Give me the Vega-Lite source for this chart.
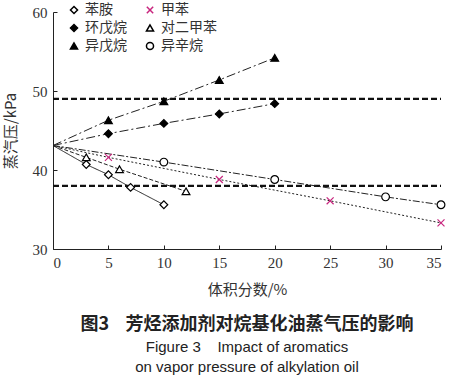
{
  "$schema": "https://vega.github.io/schema/vega-lite/v6.json",
  "width": 388,
  "height": 237,
  "autosize": "none",
  "padding": {"left": 53, "top": 12, "right": 8, "bottom": 130},
  "background": "white",
  "config": {
    "view": {"stroke": null},
    "axis": {"grid": false, "domainColor": "#222", "tickColor": "#222", "labelFont": "Liberation Serif", "labelFontSize": 15, "labelColor": "#333", "titleFont": "Noto Sans CJK SC", "titleFontSize": 15, "titleFontWeight": "normal", "titleColor": "#333"},
    "legend": {"labelFont": "Noto Sans CJK SC", "labelFontSize": 14, "labelColor": "#333"}
  },
  "title": {
    "text": "图3\u00a0\u00a0\u00a0\u00a0芳烃添加剂对烷基化油蒸气压的影响",
    "subtitle": ["Figure 3\u00a0\u00a0\u00a0\u00a0Impact of aromatics", "on vapor pressure of alkylation oil"],
    "orient": "bottom",
    "anchor": "middle",
    "offset": 19,
    "font": "Noto Sans CJK SC",
    "fontSize": 18,
    "fontWeight": "bold",
    "color": "#222",
    "subtitleFont": "Liberation Sans",
    "subtitleFontSize": 15,
    "subtitleColor": "#222",
    "subtitlePadding": 6,
    "subtitleLineHeight": 20
  },
  "resolve": {"legend": {"strokeDash": "independent"}},
  "datasets": {
    "series": [
      {"s": "苯胺", "x": 0, "y": 43.1},
      {"s": "苯胺", "x": 3, "y": 40.7},
      {"s": "苯胺", "x": 5, "y": 39.4},
      {"s": "苯胺", "x": 7, "y": 37.8},
      {"s": "苯胺", "x": 10, "y": 35.6},
      {"s": "甲苯", "x": 0, "y": 43.1},
      {"s": "甲苯", "x": 5, "y": 41.6},
      {"s": "甲苯", "x": 15, "y": 38.8},
      {"s": "甲苯", "x": 25, "y": 36.1},
      {"s": "甲苯", "x": 35, "y": 33.3},
      {"s": "环戊烷", "x": 0, "y": 43.1},
      {"s": "环戊烷", "x": 5, "y": 44.6},
      {"s": "环戊烷", "x": 10, "y": 45.9},
      {"s": "环戊烷", "x": 15, "y": 47.1},
      {"s": "环戊烷", "x": 20, "y": 48.4},
      {"s": "对二甲苯", "x": 0, "y": 43.1},
      {"s": "对二甲苯", "x": 3, "y": 41.6},
      {"s": "对二甲苯", "x": 6, "y": 40.1},
      {"s": "对二甲苯", "x": 12, "y": 37.3},
      {"s": "异戊烷", "x": 0, "y": 43.1},
      {"s": "异戊烷", "x": 5, "y": 46.3},
      {"s": "异戊烷", "x": 10, "y": 48.7},
      {"s": "异戊烷", "x": 15, "y": 51.4},
      {"s": "异戊烷", "x": 20, "y": 54.2},
      {"s": "异辛烷", "x": 0, "y": 43.1},
      {"s": "异辛烷", "x": 10, "y": 41.0},
      {"s": "异辛烷", "x": 20, "y": 38.8},
      {"s": "异辛烷", "x": 30, "y": 36.6},
      {"s": "异辛烷", "x": 35, "y": 35.6}
    ],
    "limits": [{"y": 49}, {"y": 38}]
  },
  "layer": [
    {
      "data": {"name": "limits"},
      "mark": {"type": "rule", "strokeDash": [6, 3], "strokeWidth": 2.2, "color": "#111"},
      "encoding": {
        "x": {"datum": 0, "type": "quantitative", "scale": {"domain": [0, 35]}},
        "x2": {"datum": 35},
        "y": {"field": "y", "type": "quantitative", "scale": {"domain": [30, 60]}}
      }
    },
    {
      "data": {"name": "series"},
      "mark": {"type": "line", "color": "#222", "strokeWidth": 1},
      "encoding": {
        "x": {"field": "x", "type": "quantitative", "scale": {"domain": [0, 35]},
          "axis": {"values": [0, 5, 10, 15, 20, 25, 30, 35], "title": "体积分数/%", "tickSize": -4, "labelPadding": 10, "titlePadding": 12}},
        "y": {"field": "y", "type": "quantitative", "scale": {"domain": [30, 60]},
          "axis": {"values": [30, 35, 40, 45, 50, 55, 60], "title": "蒸汽压/kPa", "tickSize": -4, "labelPadding": 10, "titlePadding": 14}},
        "detail": {"field": "s"},
        "strokeDash": {"field": "s", "type": "nominal", "legend": null,
          "scale": {"domain": ["苯胺", "环戊烷", "异戊烷", "甲苯", "对二甲苯", "异辛烷"],
            "range": [[1, 0], [9, 3, 2, 3], [9, 3, 2, 3], [2, 2], [4, 2], [7, 2, 2, 2]]}}
      }
    },
    {
      "data": {"name": "series"},
      "transform": [{"filter": "datum.x > 0"}],
      "mark": {"type": "point", "size": 60, "strokeWidth": 1.2, "opacity": 1},
      "encoding": {
        "x": {"field": "x", "type": "quantitative"},
        "y": {"field": "y", "type": "quantitative"},
        "shape": {"field": "s", "type": "nominal",
          "scale": {"domain": ["苯胺", "环戊烷", "异戊烷", "甲苯", "对二甲苯", "异辛烷"],
            "range": ["diamond", "diamond", "triangle-up", "M-0.9,-0.9L0.9,0.9M-0.9,0.9L0.9,-0.9", "triangle-up", "circle"]},
          "legend": {"title": null, "orient": "none", "legendX": 14, "legendY": -9, "columns": 2, "columnPadding": 16, "rowPadding": 4, "symbolSize": 50, "labelOffset": 4}},
        "fill": {"field": "s", "type": "nominal",
          "scale": {"domain": ["苯胺", "环戊烷", "异戊烷", "甲苯", "对二甲苯", "异辛烷"],
            "range": ["white", "black", "black", "transparent", "white", "white"]}},
        "stroke": {"field": "s", "type": "nominal",
          "scale": {"domain": ["苯胺", "环戊烷", "异戊烷", "甲苯", "对二甲苯", "异辛烷"],
            "range": ["black", "black", "black", "#c8267e", "black", "black"]}}
      }
    }
  ]
}
